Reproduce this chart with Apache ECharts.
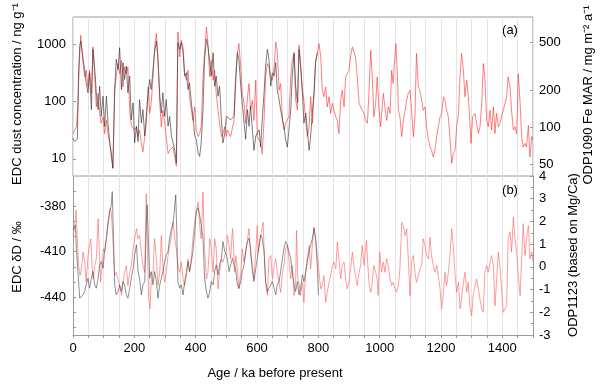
<!doctype html>
<html lang="en">
<head>
    <meta charset="UTF-8">
    <title>EDC / ODP records</title>
    <style>
        html, body { margin: 0; padding: 0; background: #fff; }
    </style>
</head>
<body>
<div id="myChart" style="width: 600px;height: 386px"></div>
<script src="https://cdn.jsdelivr.net/npm/echarts/dist/echarts.min.js"></script>
<script>
    // EDC dust concentration, ng/g  [age ka, value]
    var edcDust = [[0,23],[5,20],[11,20],[14,22],[18,280],[22,900],[25,1150],[27,1000],[33,546],[38,364],[43,212],[49,142],[54,318],[60,72],[65,817],[71,364],[76,142],[82,72],[87,186],[92,55],[98,124],[103,37],[109,124],[114,42],[120,19],[125,12.6],[130,6.9],[136,162],[141,546],[147,364],[152,874],[158,162],[163,477],[168,243],[174,417],[179,142],[185,278],[190,48],[196,95],[201,19],[207,37],[212,20],[217,108],[223,42],[228,72],[234,25],[239,55],[245,142],[250,243],[255,162],[261,364],[266,714],[272,1144],[277,546],[283,124],[288,63],[293,142],[299,55],[304,108],[310,37],[315,55],[321,25],[326,19],[332,14],[337,8.4],[342,1070],[348,817],[353,1070],[359,714],[364,278],[370,318],[375,162],[380,212],[386,95],[391,55],[397,25],[402,22],[408,12.6],[413,11],[418,19],[424,72],[429,546],[435,1224],[440,935],[446,477],[451,278],[457,714],[462,186],[467,278],[473,124],[478,186],[484,48],[489,19],[495,28],[500,55],[503,55],[514,48],[525,55],[530,186],[536,714],[541,546],[547,186],[552,95],[558,42],[563,22],[569,72],[574,37],[579,83],[585,32],[590,14],[596,25],[601,25],[607,32],[612,16],[617,48],[623,142],[628,417],[634,817],[639,546],[645,186],[650,318],[656,278],[661,477],[666,162],[672,108],[677,72],[683,48],[688,37],[693,22],[699,16],[704,32],[710,72],[715,278],[721,714],[726,186],[732,95],[737,817],[742,417],[748,142],[753,42],[759,63],[764,32],[770,14],[775,25],[781,72],[786,142],[791,477],[797,714]];

    // ODP1090 Fe MAR, mg m-2 a-1
    var odpFe = [[0,89],[5,92],[11,101],[16,147],[20,312],[25,567],[29,427],[34,312],[38,259],[43,293],[49,214],[54,293],[60,189],[65,455],[71,259],[76,147],[82,189],[87,130],[92,108],[98,122],[103,89],[109,114],[114,89],[120,74],[125,57],[130,46],[136,201],[141,259],[147,333],[152,275],[158,354],[163,214],[168,312],[174,275],[179,312],[185,138],[190,104],[196,101],[201,95],[207,101],[212,84],[217,95],[223,74],[228,63],[234,84],[239,108],[245,214],[250,130],[255,157],[261,259],[266,455],[272,585],[277,377],[283,157],[288,101],[293,138],[299,108],[304,84],[310,61],[315,65],[321,63],[326,69],[332,57],[337,48],[342,604],[348,377],[353,516],[359,455],[364,275],[370,243],[375,293],[380,178],[386,138],[391,114],[397,147],[402,95],[408,84],[413,89],[418,101],[424,259],[429,402],[435,663],[440,485],[446,259],[451,354],[457,243],[462,293],[467,189],[473,138],[478,108],[484,84],[489,89],[495,101],[500,84],[503,95],[514,84],[525,114],[530,259],[536,402],[541,485],[547,312],[552,189],[558,157],[563,108],[569,178],[574,228],[579,138],[585,167],[590,114],[596,243],[601,84],[607,79],[612,74],[617,61],[623,114],[628,259],[634,333],[639,312],[645,259],[650,243],[656,312],[661,500],[666,427],[672,201],[677,228],[683,114],[688,95],[693,108],[699,108],[704,122],[710,259],[715,354],[721,402],[726,167],[732,138],[737,470],[742,354],[748,201],[753,167],[759,114],[764,84],[770,101],[775,178],[781,108],[786,189],[791,354],[797,402],[802,485],[808,377],[813,201],[818,178],[824,214],[829,147],[835,178],[840,130],[846,157],[851,138],[857,122],[862,114],[867,89],[873,167],[878,201],[884,147],[889,259],[894,275],[900,293],[905,377],[911,455],[916,470],[921,377],[927,259],[933,157],[938,147],[943,138],[949,130],[954,114],[960,108],[965,189],[971,427],[976,259],[981,122],[987,157],[992,259],[998,138],[1003,101],[1009,157],[1012,189],[1017,147],[1023,114],[1028,147],[1034,130],[1039,293],[1044,228],[1050,402],[1053,485],[1058,259],[1061,138],[1066,122],[1072,84],[1077,114],[1083,138],[1088,167],[1093,189],[1099,201],[1104,138],[1110,84],[1115,122],[1120,402],[1126,214],[1131,201],[1137,167],[1142,138],[1148,147],[1153,101],[1159,79],[1164,69],[1169,65],[1175,57],[1180,65],[1186,84],[1191,101],[1197,122],[1202,130],[1208,178],[1213,167],[1218,138],[1224,122],[1229,84],[1235,51],[1240,61],[1246,65],[1251,101],[1257,130],[1262,259],[1267,402],[1273,293],[1278,178],[1284,243],[1289,178],[1294,114],[1298,74],[1303,122],[1311,130],[1316,108],[1322,89],[1327,101],[1333,157],[1338,333],[1343,259],[1349,114],[1354,101],[1360,138],[1365,95],[1371,147],[1376,89],[1381,130],[1387,101],[1392,108],[1403,138],[1414,178],[1419,259],[1425,214],[1430,138],[1436,95],[1441,101],[1447,89],[1452,275],[1458,157],[1463,84],[1468,69],[1474,74],[1479,69],[1485,104],[1490,57],[1496,84],[1500,79]];

    // EDC deuterium, permil
    var edcDeltaD = [[0,-395.6],[5,-396.7],[8,-392.3],[11,-407.7],[16,-423.1],[22,-440.7],[27,-441.8],[33,-438.5],[38,-436.3],[43,-431.9],[49,-427.5],[54,-434.1],[60,-427.5],[65,-423.1],[71,-431.9],[76,-434.1],[82,-427.5],[87,-418.7],[92,-416.5],[98,-420.9],[103,-409.9],[109,-401.1],[114,-392.3],[120,-383.5],[125,-379],[128,-370.3],[132,-401.1],[136,-431.9],[141,-438.5],[147,-436.3],[152,-431.9],[158,-436.3],[163,-429.7],[168,-431.9],[174,-438.5],[179,-440.7],[185,-434.1],[190,-427.5],[196,-420.9],[201,-412.1],[207,-405.5],[212,-423.1],[217,-427.5],[223,-438.5],[228,-431.9],[234,-429.7],[239,-392.3],[242,-379],[247,-409.9],[250,-427.5],[255,-423.1],[261,-431.9],[266,-423.1],[272,-429.7],[277,-440.7],[283,-431.9],[288,-427.5],[293,-423.1],[299,-416.5],[304,-412.1],[310,-409.9],[315,-401.1],[321,-394.5],[326,-392.3],[332,-379],[335,-372.5],[339,-401.1],[342,-429.7],[348,-434.1],[353,-431.9],[359,-438.5],[364,-429.7],[370,-423.1],[375,-416.5],[380,-423.1],[386,-416.5],[391,-409.9],[397,-396.7],[402,-383.5],[408,-381],[413,-385.7],[418,-392.3],[424,-401.1],[429,-427.5],[435,-436.3],[440,-440.7],[446,-436.3],[451,-429.7],[457,-431.9],[462,-423.1],[467,-418.7],[473,-425.3],[478,-418.7],[484,-414.3],[489,-403.3],[495,-409.9],[500,-412.1],[503,-414.3],[509,-423.1],[514,-418.7],[520,-414.3],[525,-418.7],[530,-420.9],[536,-431.9],[541,-434.1],[547,-429.7],[552,-423.1],[558,-418.7],[563,-409.9],[569,-403.3],[574,-401.1],[579,-407.7],[585,-423.1],[590,-429.7],[596,-420.9],[601,-414.3],[607,-405.5],[612,-398.9],[617,-401.1],[623,-409.9],[628,-429.7],[634,-436.3],[639,-434.1],[645,-431.9],[650,-429.7],[656,-434.1],[661,-438.5],[666,-431.9],[672,-429.7],[677,-423.1],[683,-414.3],[688,-407.7],[693,-403.3],[699,-405.5],[704,-409.9],[710,-414.3],[715,-423.1],[721,-431.9],[726,-436.3],[732,-429.7],[737,-438.5],[742,-434.1],[748,-425.3],[753,-429.7],[759,-423.1],[764,-416.5],[770,-409.9],[775,-405.5],[781,-401.1],[786,-394.5],[791,-401.1],[797,-420.9],[800,-438.5]];

    // ODP1123 SST anomaly (Mg/Ca)
    var odpSst = [[0,1.38],[5,1.68],[10,2.49],[14,1.24],[18,0.06],[23,-0.38],[27,-0.09],[33,0.65],[38,0.21],[43,-0.68],[49,0.5],[54,0.94],[58,1.24],[62,0.06],[66,-0.53],[71,0.06],[76,0.35],[82,2.12],[86,0.65],[90,-0.68],[95,0.06],[99,0.79],[103,0.65],[109,1.24],[114,1.97],[120,2.56],[125,2.41],[130,1.24],[136,-0.38],[141,-0.24],[147,-0.24],[152,-0.82],[158,-1.26],[163,-0.68],[168,-0.24],[174,0.06],[179,-0.82],[185,-0.24],[190,0.06],[196,0.79],[201,1.24],[207,1.68],[212,1.24],[217,1.38],[223,0.65],[228,0.06],[234,-0.24],[239,3.22],[242,1.24],[247,-1.41],[251,-1.85],[255,-0.68],[261,-0.24],[266,1.24],[272,0.35],[277,-0.82],[283,-0.24],[288,1.38],[293,0.06],[299,-0.68],[304,-0.24],[310,0.5],[315,0.94],[321,1.38],[326,1.97],[332,1.24],[337,0.79],[342,0.06],[348,-0.24],[353,0.21],[359,-0.53],[364,-0.82],[370,-0.38],[375,0.35],[380,-0.24],[386,0.35],[391,1.24],[397,1.97],[402,2.41],[408,2.85],[413,1.82],[418,1.24],[424,3.29],[429,0.79],[435,-0.53],[440,-0.24],[446,1.24],[451,0.79],[457,-0.24],[462,1.24],[467,0.79],[473,-0.97],[478,-0.24],[484,0.35],[489,0.21],[495,0.5],[500,0.65],[503,1.38],[509,0.94],[514,0.35],[520,1.68],[523,1.09],[527,-0.24],[531,0.5],[536,-0.09],[541,-0.97],[547,-0.24],[552,0.79],[558,0.21],[563,0.65],[569,1.24],[574,1.68],[579,0.5],[585,0.06],[590,-0.53],[596,0.65],[601,1.82],[604,0.65],[610,1.24],[614,1.53],[620,1.97],[625,0.21],[629,-0.82],[634,-1.26],[639,0.35],[645,0.5],[650,-0.53],[656,0.06],[661,0.35],[666,-0.24],[672,-0.68],[677,-1.12],[683,-0.24],[688,0.06],[693,0.79],[699,0.94],[704,0.35],[710,-0.53],[715,0.06],[721,-1.26],[726,-0.68],[729,1.6],[733,-0.53],[738,-0.82],[742,-1.26],[748,-0.68],[753,-1.56],[759,-0.24],[764,0.35],[770,0.94],[775,-0.09],[781,1.09],[786,1.75],[791,1.24],[797,0.5],[802,-0.24],[808,-0.97],[813,-0.82],[818,-0.38],[824,-1.56],[829,-1.12],[835,-0.68],[840,-0.38],[846,0.06],[851,0.21],[857,-0.09],[862,1.09],[867,0.35],[873,-0.53],[878,0.06],[884,0.21],[889,-0.53],[894,-0.97],[900,-0.68],[905,-0.09],[911,0.65],[916,0.06],[921,-0.38],[927,-0.82],[933,-0.24],[938,0.06],[943,0.94],[949,0.06],[954,0.79],[957,1.16],[962,-0.09],[966,-0.82],[971,-1.12],[976,-0.68],[981,0.06],[987,-0.24],[992,-0.53],[995,-1.26],[1000,0.65],[1006,-0.24],[1012,0.21],[1017,-0.24],[1023,0.35],[1028,0.06],[1034,-0.53],[1039,-0.82],[1044,-0.68],[1050,-0.97],[1055,-1.12],[1061,-0.82],[1066,-0.09],[1072,1.97],[1077,1.82],[1083,1.38],[1088,1.68],[1093,0.5],[1099,-1.26],[1104,0.21],[1110,0.5],[1115,-0.24],[1120,-0.68],[1126,-0.38],[1131,-0.09],[1137,0.06],[1142,1.24],[1148,0.94],[1153,0.5],[1159,0.35],[1164,1.31],[1169,0.5],[1175,0.06],[1180,-0.24],[1186,0.06],[1191,-0.38],[1197,-0.97],[1202,-1.85],[1208,-1.12],[1213,-0.24],[1218,-0.82],[1224,-0.24],[1229,0.5],[1235,1.68],[1240,0.94],[1246,-0.38],[1251,-1.12],[1257,-0.68],[1262,-1.85],[1267,-1.41],[1273,-0.68],[1278,-0.24],[1284,-1.12],[1289,-0.68],[1294,-1.71],[1300,-2.15],[1305,-1.26],[1311,-0.82],[1316,-0.53],[1322,-0.97],[1327,-1.41],[1333,-1.85],[1338,-2.0],[1343,-0.24],[1349,0.06],[1354,-0.24],[1360,0.21],[1365,0.5],[1371,0.06],[1376,-1.71],[1381,-0.68],[1387,0.65],[1392,0.06],[1398,-1.12],[1403,-2.0],[1409,-2.0],[1414,-1.71],[1419,1.24],[1425,1.53],[1430,0.65],[1436,2.19],[1441,1.24],[1447,0.65],[1452,-0.38],[1458,-1.26],[1463,0.35],[1468,1.9],[1474,0.5],[1479,1.24],[1485,1.82],[1490,0.35],[1496,0.65],[1500,0.21]];

    var ageLabels = [0, 200, 400, 600, 800, 1000, 1200, 1400];
    var dustLabels = [10, 100, 1000];
    var feLabels = [50, 100, 200, 500];
    var deltaDLabels = [-440, -410, -380];
    var deltaDTicks = [-460, -450, -440, -430, -420, -410, -400, -390, -380, -370];

    var myChart = echarts.init(document.getElementById('myChart'));
    var font = 'Liberation Sans, Arial, sans-serif';
    var frame = '#9a9a9a';
    var plain = function (v) { return String(v); };
    var edge = {show: true, onZero: false, lineStyle: {color: frame, width: 1}};

    var option = {
        animation: false,
        backgroundColor: '#fff',
        textStyle: {fontFamily: font},
        grid: [
            // top panel keeps its own frame, bottom panel is framed by its axis lines
            {left: 73, top: 17, width: 460, height: 159, show: true, borderColor: frame, borderWidth: 1},
            {left: 73, top: 176, width: 460, height: 159, show: false}
        ],
        xAxis: [
            {
                gridIndex: 0, type: 'value', min: 0, max: 1500, interval: 50,
                axisLine: {show: false}, axisTick: {show: false}, axisLabel: {show: false},
                splitLine: {show: true, lineStyle: {color: '#e4e4e4', width: 1}}
            },
            {
                gridIndex: 1, type: 'value', min: 0, max: 1500, interval: 50,
                axisLine: edge,
                axisTick: {show: true, length: 3, lineStyle: {color: frame}},
                axisLabel: {customValues: ageLabels, formatter: plain, color: '#000', fontSize: 13, margin: 7, fontFamily: font},
                splitLine: {show: true, lineStyle: {color: '#e4e4e4', width: 1}}
            }
        ],
        yAxis: [
            {
                gridIndex: 0, type: 'log', logBase: 10, min: 5, max: 3000, position: 'left',
                axisLine: {show: false}, splitLine: {show: false},
                axisTick: {show: true, inside: true, length: 3, customValues: dustLabels, lineStyle: {color: frame}},
                axisLabel: {customValues: dustLabels, formatter: plain, color: '#000', fontSize: 13, margin: 7, fontFamily: font}
            },
            {
                gridIndex: 0, type: 'log', logBase: 10, min: 40, max: 800, position: 'right',
                axisLine: {show: false}, splitLine: {show: false},
                axisTick: {show: true, inside: true, length: 3, customValues: feLabels, lineStyle: {color: frame}},
                axisLabel: {customValues: feLabels, formatter: plain, color: '#000', fontSize: 13, margin: 6, fontFamily: font}
            },
            {
                gridIndex: 1, type: 'value', min: -465, max: -360, position: 'left',
                axisLine: edge, splitLine: {show: false},
                axisTick: {show: true, inside: true, length: 3, customValues: deltaDTicks, lineStyle: {color: frame}},
                axisLabel: {customValues: deltaDLabels, formatter: plain, color: '#000', fontSize: 13, margin: 7, fontFamily: font}
            },
            {
                gridIndex: 1, type: 'value', min: -3, max: 4, interval: 1, position: 'right',
                axisLine: edge, splitLine: {show: false},
                axisTick: {show: true, inside: true, length: 3, lineStyle: {color: frame}},
                minorTick: {show: true, splitNumber: 2, length: 2, lineStyle: {color: frame}},
                axisLabel: {formatter: plain, color: '#000', fontSize: 13, margin: 6, fontFamily: font}
            }
        ],
        series: [
            {
                name: 'ODP1090 Fe MAR', type: 'line', xAxisIndex: 0, yAxisIndex: 1,
                data: odpFe, symbol: 'none', silent: true,
                lineStyle: {color: '#ff2a2a', width: 0.8, opacity: 0.75}
            },
            {
                name: 'EDC dust', type: 'line', xAxisIndex: 0, yAxisIndex: 0,
                data: edcDust, symbol: 'none', silent: true,
                lineStyle: {color: '#333', width: 0.8, opacity: 0.8}
            },
            {
                name: 'ODP1123', type: 'line', xAxisIndex: 1, yAxisIndex: 3,
                data: odpSst, symbol: 'none', silent: true,
                lineStyle: {color: '#ff5a5a', width: 0.8, opacity: 0.75}
            },
            {
                name: 'EDC dD', type: 'line', xAxisIndex: 1, yAxisIndex: 2,
                data: edcDeltaD, symbol: 'none', silent: true,
                lineStyle: {color: '#444', width: 0.8, opacity: 0.75}
            }
        ],
        graphic: [
            {type: 'text', x: 17, y: 94, rotation: Math.PI / 2,
                style: {text: 'EDC dust concentration / ng g\u207B\u00B9', font: '13px ' + font, fill: '#000', textAlign: 'center', textVerticalAlign: 'middle'}},
            {type: 'text', x: 17, y: 257, rotation: Math.PI / 2,
                style: {text: 'EDC \u03B4D / \u2030', font: '13px ' + font, fill: '#000', textAlign: 'center', textVerticalAlign: 'middle'}},
            {type: 'text', x: 588, y: 95, rotation: Math.PI / 2,
                style: {text: 'ODP1090 Fe MAR / mg m\u207B\u00B2 a\u207B\u00B9', font: '13px ' + font, fill: '#000', textAlign: 'center', textVerticalAlign: 'middle'}},
            {type: 'text', x: 573, y: 255, rotation: Math.PI / 2,
                style: {text: 'ODP1123 (based on Mg/Ca)', font: '13px ' + font, fill: '#000', textAlign: 'center', textVerticalAlign: 'middle'}},
            {type: 'text', x: 275, y: 373,
                style: {text: 'Age / ka before present', font: '13px ' + font, fill: '#000', textAlign: 'center', textVerticalAlign: 'middle'}},
            {type: 'text', x: 510, y: 30,
                style: {text: '(a)', font: '13px ' + font, fill: '#000', textAlign: 'center', textVerticalAlign: 'middle'}},
            {type: 'text', x: 510, y: 190,
                style: {text: '(b)', font: '13px ' + font, fill: '#000', textAlign: 'center', textVerticalAlign: 'middle'}}
        ]
    };

    myChart.setOption(option);
</script>
</body>
</html>
